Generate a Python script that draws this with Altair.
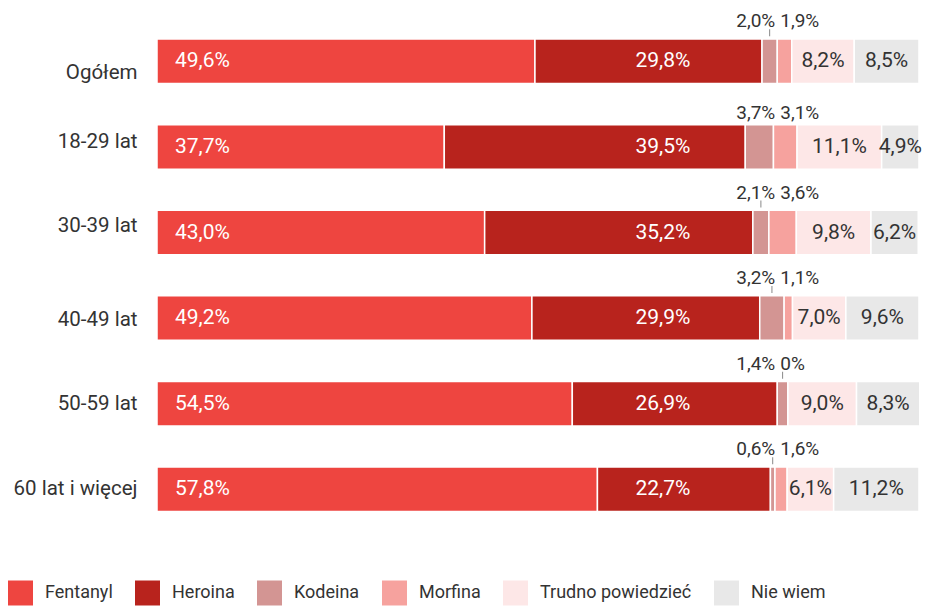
import altair as alt
import pandas as pd

groups = ["Ogółem", "18-29 lat", "30-39 lat", "40-49 lat", "50-59 lat", "60 lat i więcej"]
categories = ["Fentanyl", "Heroina", "Kodeina", "Morfina", "Trudno powiedzieć", "Nie wiem"]
fentanyl = [49.6, 37.7, 43.0, 49.2, 54.5, 57.8]
heroina = [29.8, 39.5, 35.2, 29.9, 26.9, 22.7]
kodeina = [2.0, 3.7, 2.1, 3.2, 1.4, 0.6]
morfina = [1.9, 3.1, 3.6, 1.1, 0.0, 1.6]
trudno = [8.2, 11.1, 9.8, 7.0, 9.0, 6.1]
nie_wiem = [8.5, 4.9, 6.2, 9.6, 8.3, 11.2]
colors = ["#EE4540", "#B8231D", "#D39593", "#F6A29E", "#FDE7E7", "#E8E8E8"]

series = [fentanyl, heroina, kodeina, morfina, trudno, nie_wiem]
rows = []
for gi, g in enumerate(groups):
    start = 0.0
    tick = kodeina[gi] < 3.5
    for ci, c in enumerate(categories):
        v = series[ci][gi]
        lab = ("%.1f" % v).replace(".", ",") + "%" if v else "0%"
        rows.append(dict(group=g, cat=c, order=ci, value=v, start=start,
                         end=start + v, mid=start + v / 2, label=lab, tick=tick))
        start += v
df = pd.DataFrame(rows)

FONT = "Roboto"
DARK = "#333333"

y_enc = alt.Y(
    "group:N", sort=groups, title=None,
    scale=alt.Scale(paddingInner=0.48, paddingOuter=0.24),
    axis=alt.Axis(
        domain=False, ticks=False, labelPadding=20, labelFontSize=20.5,
        labelFont=FONT, labelColor=DARK, labelLimit=300,
        labelOffset={
            "condition": [
                {"test": "datum.value === 'Ogółem'", "value": 12},
                {"test": "datum.value === '18-29 lat'", "value": -5},
                {"test": "datum.value === '30-39 lat'", "value": -7},
                {"test": "datum.value === '40-49 lat'", "value": 2},
            ],
            "value": 0,
        },
    ),
)

base = alt.Chart(df).encode(y=y_enc)

bars = base.mark_bar(stroke="white", strokeWidth=1.5).encode(
    x=alt.X("start:Q", scale=alt.Scale(domain=[0, 100]), axis=None),
    x2="end:Q",
    color=alt.Color(
        "cat:N",
        scale=alt.Scale(domain=categories, range=colors),
        legend=alt.Legend(
            title=None, orient="none", legendX=-149, legendY=562,
            direction="horizontal", symbolType="square", symbolSize=625,
            symbolStrokeWidth=0, labelFontSize=18, labelFont=FONT,
            labelColor=DARK, columnPadding=22, labelOffset=12, padding=0,
        ),
    ),
    order=alt.Order("order:Q"),
)

fent_lbl = base.transform_filter(alt.datum.cat == "Fentanyl").mark_text(
    align="left", baseline="middle", dx=18, color="white", fontSize=21, font=FONT
).encode(x="start:Q", text="label:N")

her_lbl = base.transform_filter(alt.datum.cat == "Heroina").mark_text(
    align="right", baseline="middle", color="white", fontSize=21, font=FONT
).encode(x=alt.datum(70), text="label:N")

rest_lbl = base.transform_filter(
    alt.FieldOneOfPredicate(field="cat", oneOf=["Trudno powiedzieć", "Nie wiem"])
).mark_text(
    align="center", baseline="middle", color=DARK, fontSize=21, font=FONT
).encode(x="mid:Q", text="label:N")


def small_labels(cat, align, dx, with_tick, dy):
    return base.transform_filter(
        (alt.datum.cat == cat) & (alt.datum.tick == with_tick)
    ).mark_text(
        align=align, baseline="alphabetic", dx=dx, dy=dy, color=DARK,
        fontSize=19, font=FONT
    ).encode(x=alt.datum(81.4), text="label:N")


kod_t = small_labels("Kodeina", "right", -2, True, -34)
kod_n = small_labels("Kodeina", "right", -2, False, -28)
mor_t = small_labels("Morfina", "left", 3, True, -34)
mor_n = small_labels("Morfina", "left", 3, False, -28)

ticks = base.transform_filter(
    (alt.datum.cat == "Kodeina") & (alt.datum.tick == True)
).mark_tick(yOffset=-28.5, size=7, thickness=1, color="#555555").encode(
    x="mid:Q"
)

chart = alt.layer(
    bars, fent_lbl, her_lbl, rest_lbl, kod_t, kod_n, mor_t, mor_n, ticks
).properties(
    width=762, height=513.6,
    autosize=alt.AutoSizeParams(type="none"),
    padding={"left": 149, "top": 10.5, "right": 4, "bottom": 73.9},
).configure_view(stroke=None)

chart.save("out.html", embed_options={"renderer": "svg", "actions": False})
